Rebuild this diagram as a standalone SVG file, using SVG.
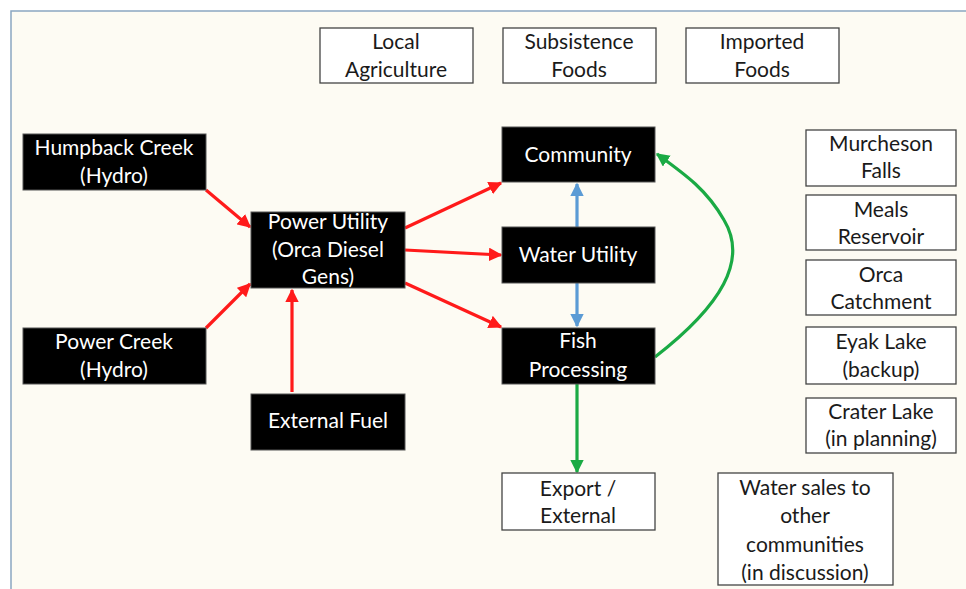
<svg xmlns="http://www.w3.org/2000/svg" width="966" height="589" viewBox="0 0 966 589">
<defs>
<style>
text{font-family:Lato,"Open Sans","Liberation Sans",sans-serif;font-size:21px;text-anchor:middle}
.dk rect{fill:#000;stroke:#555;stroke-width:1}
.dk text{fill:#fff}
.lt rect{fill:#fff;stroke:#444;stroke-width:1.3}
.lt text{fill:#1a1a1a}
.r{stroke:#ff1a1a;stroke-width:3.2;fill:none;marker-end:url(#mr)}
.b{stroke:#5b9bd5;stroke-width:3.2;fill:none;marker-end:url(#mb)}
.g{stroke:#1aaa44;stroke-width:3.2;fill:none;marker-end:url(#mg)}
</style>
<marker id="mr" viewBox="0 0 10 10" refX="9" refY="5" markerWidth="4.2" markerHeight="4.2" orient="auto" markerUnits="strokeWidth"><path d="M0,0L10,5L0,10z" fill="#ff1a1a"/></marker>
<marker id="mb" viewBox="0 0 10 10" refX="9" refY="5" markerWidth="4.2" markerHeight="4.2" orient="auto" markerUnits="strokeWidth"><path d="M0,0L10,5L0,10z" fill="#5b9bd5"/></marker>
<marker id="mg" viewBox="0 0 10 10" refX="9" refY="5" markerWidth="4.2" markerHeight="4.2" orient="auto" markerUnits="strokeWidth"><path d="M0,0L10,5L0,10z" fill="#1aaa44"/></marker>
</defs>
<rect x="0" y="0" width="966" height="589" fill="#fff"/>
<rect x="11" y="11" width="965" height="590" fill="#fdfbf3" stroke="#8aa6c1" stroke-width="1.5"/>

<g id="connectors">
<line class="r" x1="206" y1="190" x2="250" y2="227"/>
<line class="r" x1="206" y1="328" x2="250" y2="284"/>
<line class="r" x1="292" y1="392" x2="292" y2="290"/>
<line class="r" x1="405" y1="228" x2="501" y2="183"/>
<line class="r" x1="405" y1="250" x2="501" y2="255"/>
<line class="r" x1="405" y1="283" x2="501" y2="327"/>
<line class="b" x1="577" y1="227" x2="577" y2="184"/>
<line class="b" x1="577" y1="283" x2="577" y2="326"/>
<line class="g" x1="577" y1="384" x2="577" y2="472"/>
<path class="g" d="M655,357 C722,305 748,260 724,220 C707,190 686,175 657,154"/>
</g>

<g id="local-agriculture" class="lt"><rect x="320" y="28" width="153" height="55"/><text x="396" y="49">Local</text><text x="396" y="77">Agriculture</text></g>
<g id="subsistence-foods" class="lt"><rect x="503" y="28" width="153" height="55"/><text x="579" y="49">Subsistence</text><text x="579" y="77">Foods</text></g>
<g id="imported-foods" class="lt"><rect x="686" y="28" width="153" height="55"/><text x="762" y="49">Imported</text><text x="762" y="77">Foods</text></g>

<g id="humpback-creek" class="dk"><rect x="23" y="134" width="183" height="56"/><text x="114" y="155">Humpback Creek</text><text x="114" y="183">(Hydro)</text></g>
<g id="power-creek" class="dk"><rect x="23" y="328" width="183" height="56"/><text x="114" y="349">Power Creek</text><text x="114" y="377">(Hydro)</text></g>
<g id="power-utility" class="dk"><rect x="251" y="212" width="154" height="76"/><text x="328" y="229">Power Utility</text><text x="328" y="257">(Orca Diesel</text><text x="328" y="284">Gens)</text></g>
<g id="external-fuel" class="dk"><rect x="251" y="394" width="154" height="56"/><text x="328" y="428">External Fuel</text></g>

<g id="community" class="dk"><rect x="502" y="127" width="153" height="55"/><text x="578" y="162">Community</text></g>
<g id="water-utility" class="dk"><rect x="502" y="227" width="153" height="56"/><text x="578" y="262">Water Utility</text></g>
<g id="fish-processing" class="dk"><rect x="502" y="328" width="153" height="56"/><text x="578" y="348">Fish</text><text x="578" y="377">Processing</text></g>

<g id="export-external" class="lt"><rect x="502" y="473" width="153" height="57"/><text x="578" y="496">Export /</text><text x="578" y="523">External</text></g>
<g id="water-sales" class="lt"><rect x="718" y="473" width="175" height="112"/><text x="805" y="495">Water sales to</text><text x="805" y="523">other</text><text x="805" y="552">communities</text><text x="805" y="580">(in discussion)</text></g>

<g id="murcheson-falls" class="lt"><rect x="806" y="130" width="150" height="56"/><text x="881" y="151">Murcheson</text><text x="881" y="178">Falls</text></g>
<g id="meals-reservoir" class="lt"><rect x="806" y="195" width="150" height="55"/><text x="881" y="217">Meals</text><text x="881" y="244">Reservoir</text></g>
<g id="orca-catchment" class="lt"><rect x="806" y="260" width="150" height="55"/><text x="881" y="282">Orca</text><text x="881" y="309">Catchment</text></g>
<g id="eyak-lake" class="lt"><rect x="806" y="327" width="150" height="57"/><text x="881" y="349">Eyak Lake</text><text x="881" y="377">(backup)</text></g>
<g id="crater-lake" class="lt"><rect x="806" y="398" width="150" height="55"/><text x="881" y="419">Crater Lake</text><text x="881" y="446">(in planning)</text></g>
</svg>
